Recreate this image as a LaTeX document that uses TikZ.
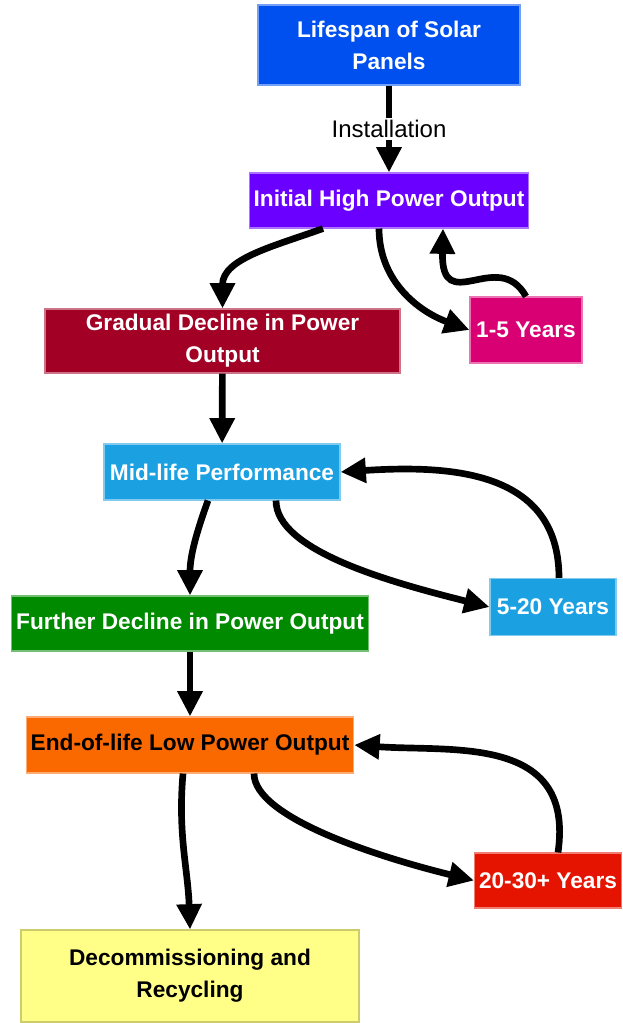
\documentclass[tikz,border=0pt]{standalone}
\usepackage{fontspec}
\setmainfont{Liberation Sans}
\usetikzlibrary{calc}
\usetikzlibrary{arrows.meta}
\definecolor{cblue}{HTML}{0050EF}
\definecolor{cviolet}{HTML}{6A00FF}
\definecolor{cmagenta}{HTML}{D80073}
\definecolor{ccrimson}{HTML}{A20025}
\definecolor{ccyan}{HTML}{1BA1E2}
\definecolor{cgreen}{HTML}{008A00}
\definecolor{corange}{HTML}{FA6800}
\definecolor{cred}{HTML}{E51400}
\definecolor{cyellow}{HTML}{FFFF88}

\begin{document}
\begin{tikzpicture}[x=0.75pt,y=0.75pt,
	box/.style={rectangle, align=center, text=white, line width=0.8pt,
		font=\fontsize{17}{24}\selectfont\bfseries},
	lbl/.style={fill=white, inner sep=2pt, font=\fontsize{18}{20}\selectfont},
	arr/.style={-{Triangle[length=19pt,width=18pt]}, line width=5pt}]
	
	\useasboundingbox (0,0) rectangle (622,-1023);
	
	\node[box, fill=cblue, draw=cblue!55!white, minimum width=196.5pt, minimum height=60pt] (life) at (389,-45) {Lifespan of Solar\\Panels};
	\node[box, fill=cviolet, draw=cviolet!55!white, minimum width=208.5pt, minimum height=41.25pt] (init) at (389,-200.5) {Initial High Power Output};
	\node[box, fill=cmagenta, draw=cmagenta!55!white, minimum width=84pt, minimum height=49.5pt] (yrs1) at (526,-330) {1-5 Years};
	\node[box, fill=ccrimson, draw=ccrimson!55!white, minimum width=266.25pt, minimum height=48pt] (grad) at (222.5,-341) {Gradual Decline in Power\\Output};
	\node[box, fill=ccyan, draw=ccyan!55!white, minimum width=177pt, minimum height=42pt] (mid) at (222,-472) {Mid-life Performance};
	\node[box, fill=ccyan, draw=ccyan!55!white, minimum width=94.5pt, minimum height=42.75pt] (yrs2) at (553,-607) {5-20 Years};
	\node[box, fill=cgreen, draw=cgreen!55!white, minimum width=264pt, minimum height=41.25pt] (further) at (190,-623.5) {Further Decline in Power Output};
	\node[box, fill=corange, draw=corange!55!white, text=black, minimum width=243pt, minimum height=42pt] (eol) at (190,-745) {End-of-life Low Power Output};
	\node[box, fill=cred, draw=cred!55!white, minimum width=108pt, minimum height=41.25pt] (yrs3) at (548,-880.5) {20-30+ Years};
	\node[box, fill=cyellow, draw=cyellow!80!black, text=black, minimum width=253.5pt, minimum height=69pt] (decom) at (190,-976) {Decommissioning and\\Recycling};
	
	\draw[arr] (life) -- node[lbl] {Installation} (init);
	\draw[arr] ($(init.south)+(-66,0)$) to[out=200,in=90] (grad.north);
	\draw[arr] ($(init.south)+(-10,0)$) to[out=-90,in=160] (yrs1.west);
	\draw[arr] (yrs1.north) .. controls +(-28,50) and +(-2,-90) .. ($(init.south)+(54,0)$);
	
	\draw[arr] (grad) -- (mid);
	\draw[arr] ($(mid.south)+(-14,0)$) to[out=-110,in=90] (further.north);
	\draw[arr] ($(mid.south)+(54,0)$) .. controls +(0,-50) and +(-100,25) .. (yrs2.west);
	\draw[arr] ($(yrs2.north)+(6,0)$) .. controls +(0,108) and +(109,7) .. (mid.east);
	
	\draw[arr] (further) -- (eol);
	\draw[arr] ($(eol.south)+(-7,0)$) to[out=-95,in=92] (decom.north);
	\draw[arr] ($(eol.south)+(64,0)$) .. controls +(0,-45) and +(-90,22) .. (yrs3.west);
	\draw[arr] ($(yrs3.north)+(10,0)$) .. controls +(17,118) and +(98,-7) .. (eol.east);
	
\end{tikzpicture}
\end{document}
